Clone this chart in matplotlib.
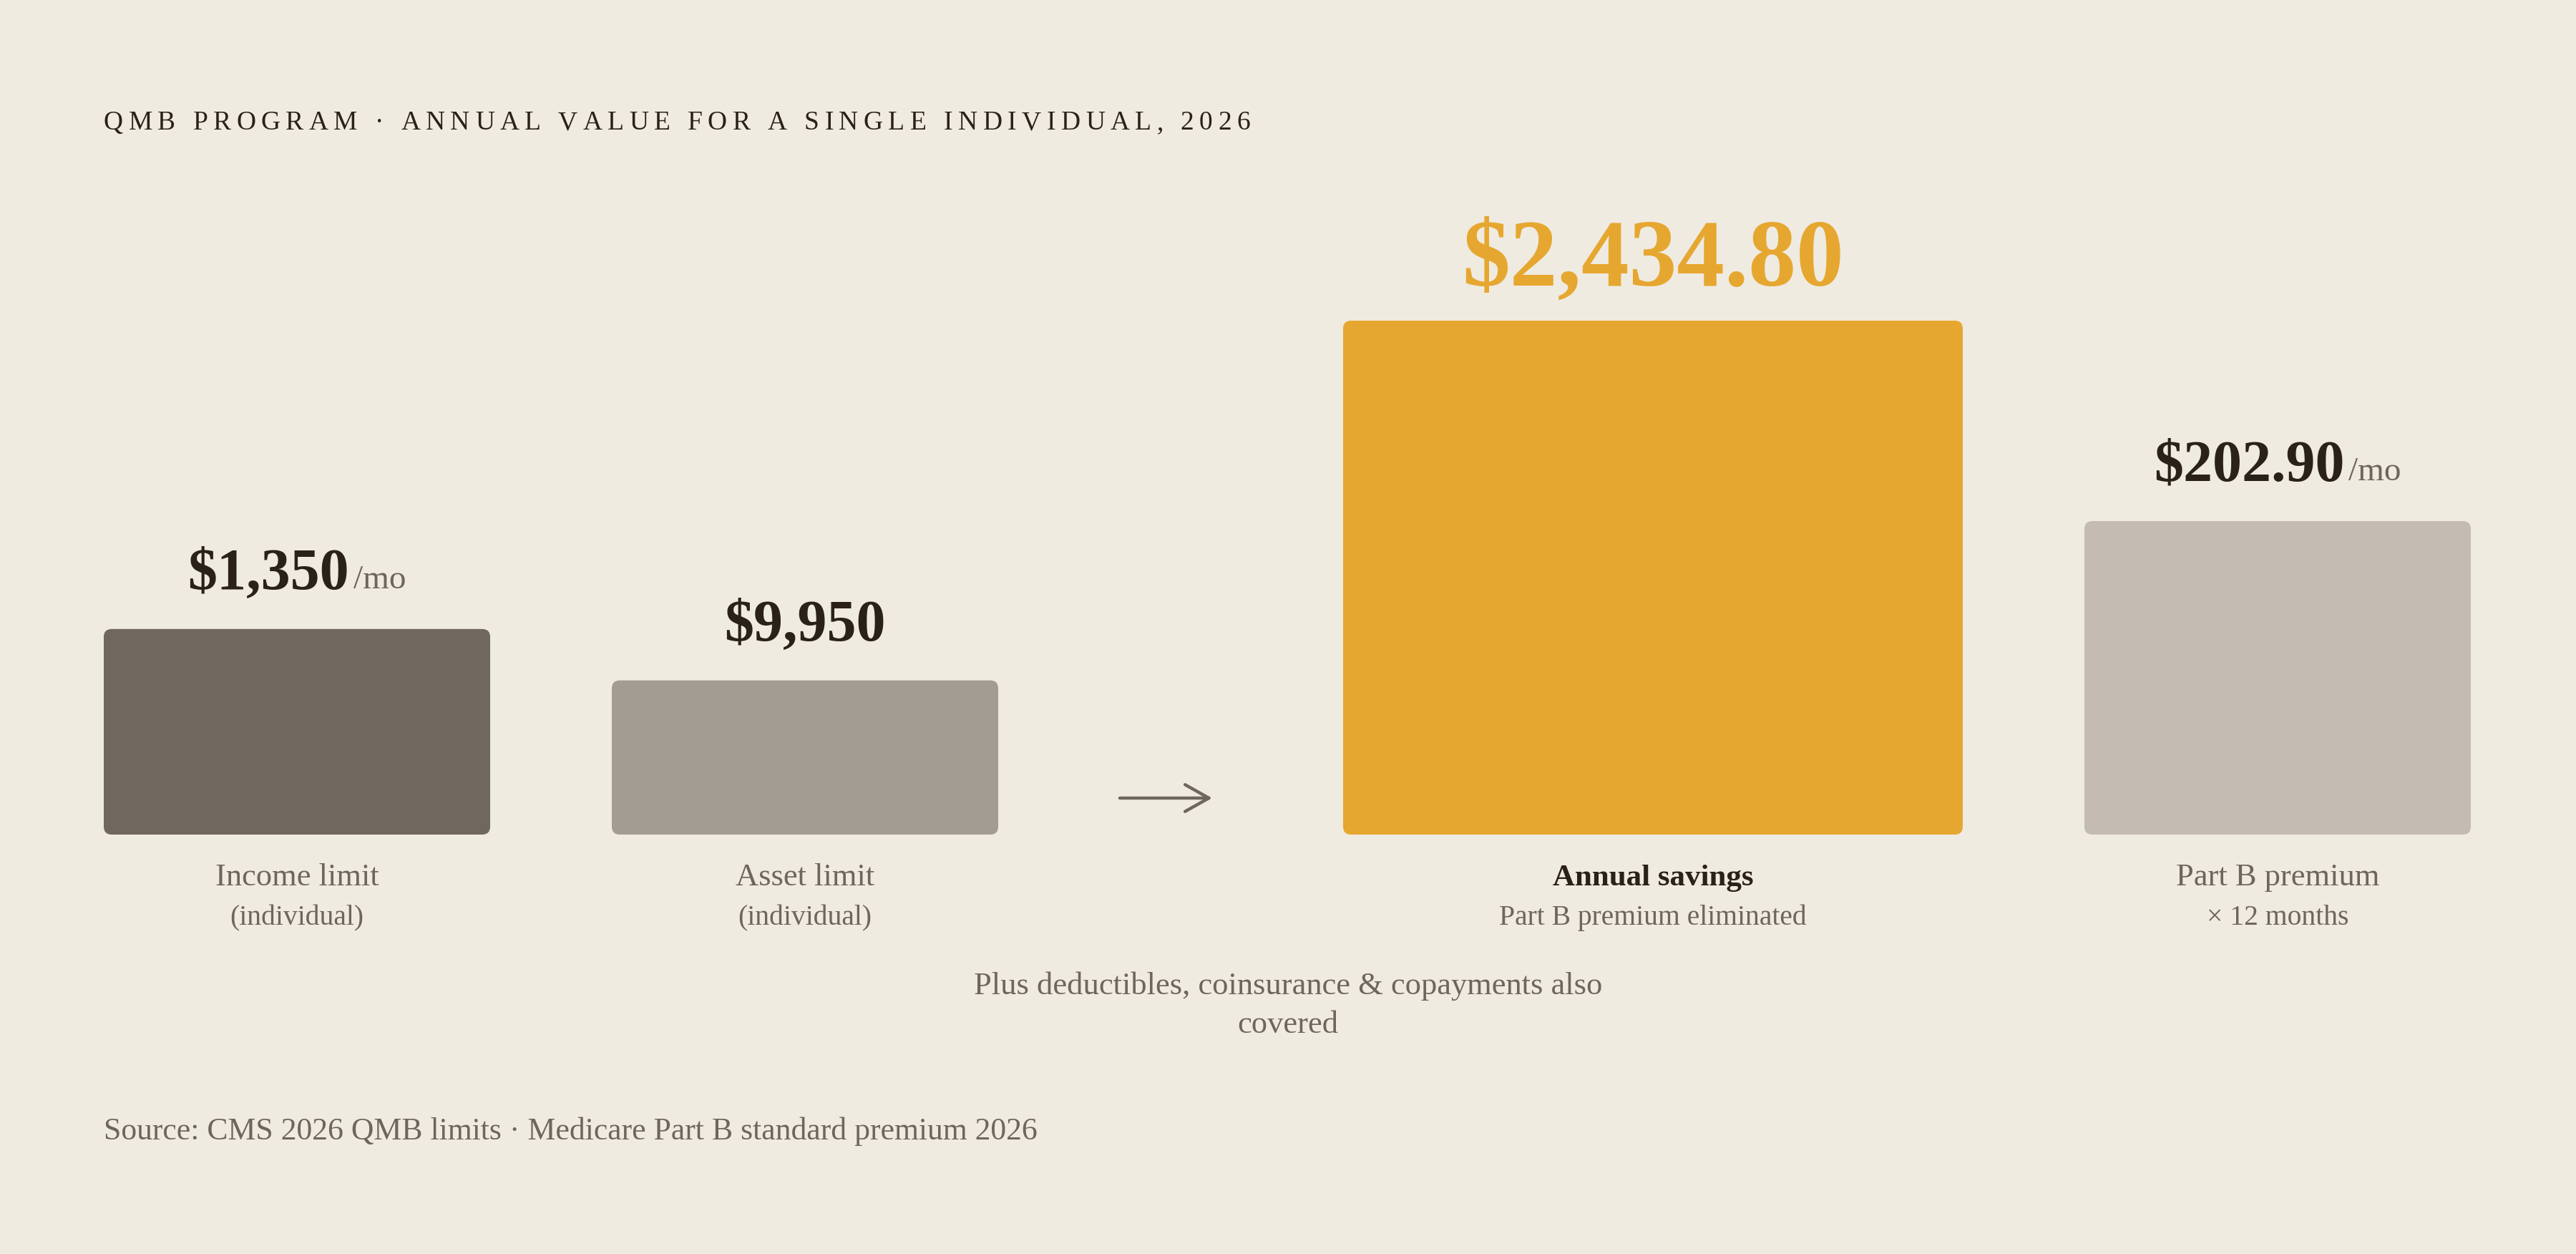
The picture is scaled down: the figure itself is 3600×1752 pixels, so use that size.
import matplotlib
matplotlib.use('Agg')
import matplotlib.pyplot as plt
from matplotlib.patches import FancyBboxPatch, ArrowStyle
from matplotlib.font_manager import FontProperties

# ---------------- data ----------------
categories = ['Income limit', 'Asset limit', 'Annual savings', 'Part B premium']
subtitles = ['(individual)', '(individual)', 'Part B premium eliminated', '× 12 months']
values = [1350, 9950, 2434.80, 202.90]
value_suffix = ['/mo', '', '', '/mo']
display_heights = [40, 30, 100, 61]   # drawn bar heights, % of tallest bar
title = 'QMB PROGRAM · ANNUAL VALUE FOR A SINGLE INDIVIDUAL, 2026'
note = 'Plus deductibles, coinsurance & copayments also\ncovered'
source = 'Source: CMS 2026 QMB limits · Medicare Part B standard premium 2026'

# ---------------- style ----------------
FAMILY = ['Liberation Serif', 'DejaVu Serif']
plt.rcParams['font.family'] = FAMILY
BG = '#efebe1'
DARK = '#2a2118'
GREY = '#6e665c'
ORANGE = '#e6a730'
bar_colors = ['#70685e', '#a39c92', ORANGE, '#c4bcb2']
highlight = 2

W, H = 3600, 1752
DPI = 100
fig = plt.figure(figsize=(W / DPI, H / DPI), dpi=DPI, facecolor=BG)

# axes region in pixels
ax_left, ax_right = 145, 3455
ax_base, ax_top = 1166, 448
ax = fig.add_axes([ax_left / W, 1 - ax_base / H, (ax_right - ax_left) / W, (ax_base - ax_top) / H])
ax.set_facecolor(BG)
ax.set_xlim(0, ax_right - ax_left)
ax.set_ylim(0, 100)
ax.axis('off')

# layout (pixel widths)
widths = [540, 540, 866, 540]
gap = 170
arrow_slot = 142
lefts = []
x = 0
for i, w in enumerate(widths):
    lefts.append(x)
    x += w + gap
    if i == 1:
        arrow_start = x
        x += arrow_slot + gap
centers = [l + w / 2 for l, w in zip(lefts, widths)]

bars = ax.bar(lefts, display_heights, width=widths, align='edge', color=bar_colors)
y_per_px = 100 / (ax_base - ax_top)
for rect, c in zip(bars, bar_colors):
    rect.set_visible(False)
    fb = FancyBboxPatch((rect.get_x(), rect.get_y()), rect.get_width(), rect.get_height(),
                        boxstyle='round,pad=0,rounding_size=11', mutation_aspect=y_per_px,
                        facecolor=c, edgecolor='none')
    ax.add_patch(fb)

# arrow
arrow_y = (ax_base - 1115) * y_per_px
ax.annotate('', xy=(arrow_start + 129, arrow_y), xytext=(arrow_start, arrow_y),
            arrowprops=dict(arrowstyle=ArrowStyle('->', head_length=2.4, head_width=1.35),
                            mutation_scale=10, lw=3.2, color='#6e675c',
                            shrinkA=0, shrinkB=0))

renderer = fig.canvas.get_renderer()


def text_w(s, fp):
    w, h, d = renderer.get_text_width_height_descent(s, fp, ismath=False)
    return w


def fmt(v):
    if float(v).is_integer():
        return '${:,.0f}'.format(v)
    return '${:,.2f}'.format(v)


# value labels
for i, (v, suf) in enumerate(zip(values, value_suffix)):
    is_hl = i == highlight
    size = 96 if is_hl else 59
    fp_main = FontProperties(family=FAMILY, size=size, weight='bold')
    fp_suf = FontProperties(family=FAMILY, size=34)
    main = fmt(v)
    wm = text_w(main, fp_main)
    ws = text_w(suf, fp_suf) if suf else 0
    sgap = 6 if suf else 0
    total = wm + sgap + ws
    dy = 49 if is_hl else 57
    ax.annotate(main, xy=(centers[i], display_heights[i]), xycoords='data',
                xytext=(-total / 2, dy), textcoords='offset pixels',
                ha='left', va='baseline', fontproperties=fp_main,
                color=ORANGE if is_hl else DARK)
    if suf:
        ax.annotate(suf, xy=(centers[i], display_heights[i]), xycoords='data',
                    xytext=(-total / 2 + wm + sgap, dy), textcoords='offset pixels',
                    ha='left', va='baseline', fontproperties=fp_suf, color=GREY)

# category labels
for i, (cat, sub) in enumerate(zip(categories, subtitles)):
    is_hl = i == highlight
    ax.annotate(cat, xy=(centers[i], 0), xycoords='data', xytext=(0, -71),
                textcoords='offset pixels', ha='center', va='baseline',
                fontsize=31 if is_hl else 32, fontweight='bold' if is_hl else 'normal',
                color=DARK if is_hl else GREY)
    ax.annotate(sub, xy=(centers[i], 0), xycoords='data', xytext=(0, -126),
                textcoords='offset pixels', ha='center', va='baseline',
                fontsize=28.5, color=GREY)

# title with letter spacing
fp_title = FontProperties(family=FAMILY, size=27)
adv = [text_w('H' + c + 'H', fp_title) - text_w('HH', fp_title) for c in title]
target_w = 1747 - 145
spacing = (target_w - sum(adv)) / (len(title) - 1)
xpos = 145
for c, a in zip(title, adv):
    fig.text(xpos / W, 1 - 181 / H, c, fontproperties=fp_title, color=DARK,
             ha='left', va='baseline')
    xpos += a + spacing

# note
for j, line in enumerate(note.split('\n')):
    fig.text(0.5, 1 - (1389 + 54 * j) / H, line, ha='center', va='baseline',
             fontsize=32, color=GREY)

# source
fig.text(145 / W, 1 - 1592 / H, source, ha='left', va='baseline', fontsize=31.5, color=GREY)

fig.savefig('out.png', dpi=DPI, facecolor=BG)
